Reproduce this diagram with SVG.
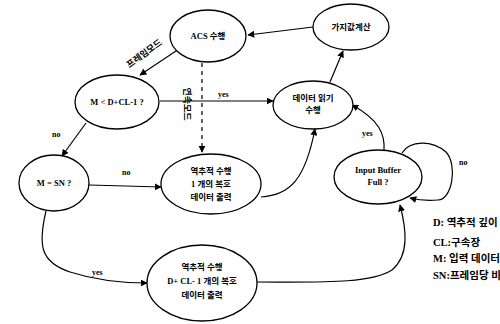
<svg xmlns="http://www.w3.org/2000/svg" width="500" height="324" viewBox="0 0 500 324">
<style>
.n{fill:#fff;stroke:#000;stroke-width:1.3}
.t{font-family:"Liberation Serif","Noto Sans CJK KR",serif;font-size:8.5px;font-weight:bold;text-anchor:middle;fill:#000}
.l{font-family:"Liberation Serif","Noto Sans CJK KR",serif;font-size:8px;font-weight:bold;fill:#000}
.g{font-family:"Liberation Serif","Noto Sans CJK KR",serif;font-size:10.5px;font-weight:bold;fill:#000}
.c{fill:none;stroke:#000;stroke-width:1.2}
</style>
<defs>
<marker id="a" viewBox="0 0 10 10" refX="9" refY="5" markerWidth="7" markerHeight="7" orient="auto" markerUnits="userSpaceOnUse"><path d="M0,0 L10,5 L0,10 z" fill="#000"/></marker>
</defs>
<rect width="500" height="324" fill="#fff"/>
<g id="connectors">
<path class="c" d="M313,27 L248,35" marker-end="url(#a)"/>
<path class="c" d="M330,82 L343,51" marker-end="url(#a)"/>
<path class="c" d="M179,49 L140,75" marker-end="url(#a)"/>
<path class="c" d="M160,101 L273,101" marker-end="url(#a)"/>
<path class="c" d="M202,63 L202,152" stroke-dasharray="4,4" marker-end="url(#a)"/>
<path class="c" d="M86,123 L62,156" marker-end="url(#a)"/>
<path class="c" d="M89,185 L161,187" marker-end="url(#a)"/>
<path class="c" d="M261,197 C290,195 305,180 315,129" marker-end="url(#a)"/>
<path class="c" d="M46,211 C38,245 40,262 70,272 C95,280 120,283 147,283" marker-end="url(#a)"/>
<path class="c" d="M257,282 C320,282 370,284 392,270 C410,255 406,228 400,205" marker-end="url(#a)"/>
<path class="c" d="M384,150 C385,135 380,120 352,105" marker-end="url(#a)"/>
<path class="c" d="M402,153 C410,140 432,140 446,152 C458,165 452,200 438,200 C428,201 418,200 410,198" marker-end="url(#a)"/>
<text class="l" text-anchor="middle" style="font-size:9px" transform="translate(146,56) rotate(-36)">프레임모드</text>
<text class="l" text-anchor="middle" style="font-size:9px" transform="translate(184,104) rotate(90)">연속모드</text>
<text class="l" x="218" y="97">yes</text>
<text class="l" x="52" y="137">no</text>
<text class="l" x="122" y="175">no</text>
<text class="l" x="92" y="275">yes</text>
<text class="l" x="362" y="136">yes</text>
<text class="l" x="459" y="165">no</text>
</g>
<g id="n1"><ellipse class="n" cx="208" cy="36" rx="38" ry="26"/><text class="t" x="208" y="39">ACS 수행</text></g>
<g id="n2"><ellipse class="n" cx="351" cy="27" rx="38" ry="23"/><text class="t" x="351" y="30">가지값계산</text></g>
<g id="n3"><ellipse class="n" cx="117" cy="102" rx="42" ry="27"/><text class="t" x="117" y="105">M &lt; D+CL-1 ?</text></g>
<g id="n4"><ellipse class="n" cx="313" cy="105" rx="40" ry="24"/><text class="t" x="313" y="101">데이터 읽기</text><text class="t" x="313" y="113">수행</text></g>
<g id="n5"><ellipse class="n" cx="54" cy="183" rx="35" ry="28"/><text class="t" x="54" y="186">M = SN ?</text></g>
<g id="n6"><ellipse class="n" cx="211" cy="184" rx="50" ry="30"/><text class="t" x="211" y="174">역추적 수행</text><text class="t" x="211" y="187">1 개의 복호</text><text class="t" x="211" y="200">데이터 출력</text></g>
<g id="n7"><ellipse class="n" cx="378" cy="177" rx="44" ry="27"/><text class="t" x="378" y="173">Input Buffer</text><text class="t" x="378" y="185">Full ?</text></g>
<g id="n8"><ellipse class="n" cx="202" cy="283" rx="55" ry="38"/><text class="t" x="202" y="270">역추적 수행</text><text class="t" x="202" y="284">D+ CL- 1 개의 복호</text><text class="t" x="202" y="298">데이터 출력</text></g>
<g id="legend">
<text class="g" x="433" y="226">D:  역추적 깊이</text>
<text class="g" x="433" y="246">CL:구속장</text>
<text class="g" x="433" y="262">M:  입력 데이터</text>
<text class="g" x="433" y="279">SN:프레임당 비</text>
</g>
</svg>
